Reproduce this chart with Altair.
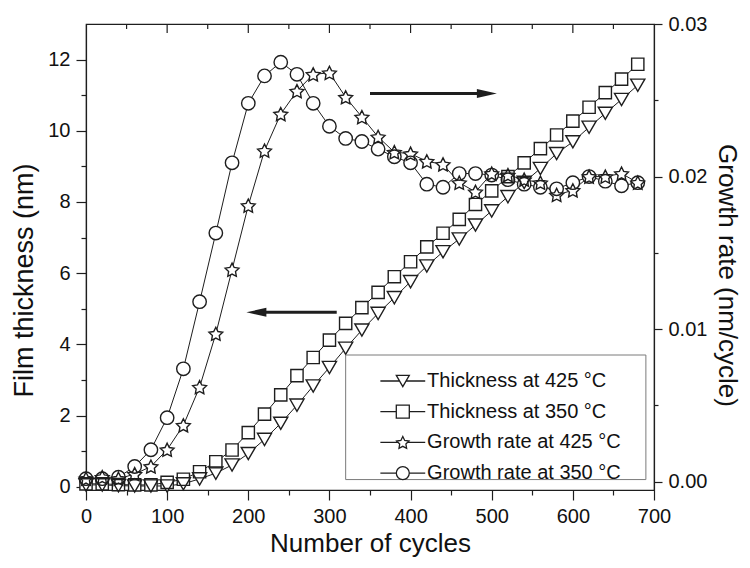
import math
import altair as alt
import pandas as pd

# ---------------- data ----------------
cycles = [0, 20, 40, 60, 80, 100, 120, 140, 160, 180, 200, 220, 240, 260, 280,
          300, 320, 340, 360, 380, 400, 420, 440, 460, 480, 500, 520, 540, 560,
          580, 600, 620, 640, 660, 680]

thick425 = [0.05, 0.05, 0.03, 0.02, 0.02, 0.02, 0.08, 0.22, 0.38, 0.61, 0.93, 1.33,
            1.78, 2.29, 2.83, 3.35, 3.89, 4.40, 4.87, 5.31, 5.76, 6.20, 6.60, 6.96,
            7.35, 7.75, 8.15, 8.55, 8.94, 9.36, 9.69, 10.10, 10.49, 10.88, 11.28]

thick350 = [0.08, 0.08, 0.06, 0.05, 0.05, 0.12, 0.21, 0.42, 0.70, 1.03, 1.52, 2.04,
            2.58, 3.12, 3.63, 4.12, 4.59, 5.03, 5.46, 5.90, 6.32, 6.74, 7.12, 7.51,
            7.93, 8.31, 8.71, 9.10, 9.50, 9.88, 10.27, 10.66, 11.07, 11.45, 11.87]

rate425 = [0.0002, 0.0003, 0.0002, 0.0005, 0.0010, 0.0021, 0.0037, 0.0062, 0.0097,
           0.0139, 0.0181, 0.0217, 0.0241, 0.0256, 0.0267, 0.0268, 0.0252, 0.0239,
           0.0226, 0.0216, 0.0215, 0.0210, 0.0208, 0.0196, 0.0190, 0.0202, 0.0201,
           0.0198, 0.0196, 0.0188, 0.0191, 0.0200, 0.0200, 0.0202, 0.0196]

rate350 = [0.0002, 0.0002, 0.0003, 0.0010, 0.0021, 0.0042, 0.0074, 0.0118, 0.0163,
           0.0209, 0.0248, 0.0266, 0.0275, 0.0267, 0.0248, 0.0233, 0.0225, 0.0223,
           0.0218, 0.0213, 0.0209, 0.0195, 0.0193, 0.0202, 0.0202, 0.0201, 0.0198,
           0.0195, 0.0193, 0.0192, 0.0196, 0.0200, 0.0197, 0.0194, 0.0196]

series_names = ["Thickness at 425 \u00b0C", "Thickness at 350 \u00b0C",
                "Growth rate at 425 \u00b0C", "Growth rate at 350 \u00b0C"]

x_tick_values = [0, 50, 100, 150, 200, 250, 300, 350, 400, 450, 500, 550, 600, 650, 700]
top_major_ticks = [100, 200, 300, 400, 500, 600]
top_minor_ticks = [50, 150, 250, 350, 450, 550, 650]
left_tick_values = [0, 1, 2, 3, 4, 5, 6, 7, 8, 9, 10, 11, 12]
right_tick_values = [0.0, 0.005, 0.01, 0.015, 0.02, 0.025, 0.03]

# arrows (annotation): tail, head-centre, level (film thickness units)
arrow_tail = [309, 350]
arrow_head = [210, 494]
arrow_level = [4.9, 11.05]
arrow_dir = ["left", "right"]

# legend frame corners (cycles, film thickness units)
legend_box_x = [320]
legend_box_x2 = [690]
legend_box_y = [3.7]
legend_box_y2 = [0.2]

# ---------------- styling ----------------
INK = "#1e1e1e"
FONT = "Liberation Sans"
X_SCALE = alt.Scale(domain=[0, 700], nice=False, zero=False)
thick_scale = alt.Scale(domain=[-0.093, 13.0], nice=False, zero=False)
rate_scale = alt.Scale(domain=[-0.00054, 0.03], nice=False, zero=False)


def star_path(outer=1.0, inner=0.5):
    pts = []
    for k in range(10):
        a = math.radians(-90 + 36 * k)
        r = outer if k % 2 == 0 else inner
        pts.append((r * math.cos(a), r * math.sin(a) + 0.1))
    return "M" + "L".join(f"{px:.3f},{py:.3f}" for px, py in pts) + "Z"


TRI = "M-1,-0.866L1,-0.866L0,0.866Z"
SQ = "M-1,-1L1,-1L1,1L-1,1Z"
CIRC = "M-1,0A1,1,0,1,1,1,0A1,1,0,1,1,-1,0Z"
STAR = star_path()
LEFT_HEAD = "M-1,0L1,-0.45L1,0.45Z"
RIGHT_HEAD = "M1,0L-1,-0.45L-1,0.45Z"


def stub(e):
    return f"M-3.45,0L-{e},0M{e},0L3.45,0"


legend_paths = [stub(0.5) + TRI, stub(1) + SQ, stub(0.75) + STAR, stub(1) + CIRC]

df = pd.DataFrame({"cycles": cycles, "thick425": thick425, "thick350": thick350,
                   "rate425": rate425, "rate350": rate350})
arrows = pd.DataFrame({"tail": arrow_tail, "head": arrow_head,
                       "level": arrow_level, "dir": arrow_dir})
legend_df = pd.DataFrame({"series": series_names})
box_df = pd.DataFrame({"x": legend_box_x, "x2": legend_box_x2,
                       "y": legend_box_y, "y2": legend_box_y2})
top_major_df = pd.DataFrame({"t": top_major_ticks})
top_minor_df = pd.DataFrame({"t": top_minor_ticks})

x_enc = alt.X(
    "cycles:Q",
    scale=X_SCALE,
    axis=alt.Axis(
        values=x_tick_values,
        title="Number of cycles",
        titleFontSize=26,
        labelExpr="datum.value % 100 === 0 ? datum.label : ''",
        tickSize={"condition": {"test": "datum.value % 100 === 0", "value": 10}, "value": 5},
        labelPadding=6,
        titlePadding=4,
    ),
)

left_axis = alt.Axis(
    orient="left",
    values=left_tick_values,
    title="Film thickness (nm)",
    titleFontSize=27,
    titleY=256,
    labelExpr="datum.value % 2 === 0 ? datum.label : ''",
    tickSize={"condition": {"test": "datum.value % 2 === 0", "value": 10}, "value": 5},
    labelPadding=6,
    titlePadding=9,
)
right_axis = alt.Axis(
    orient="right",
    values=right_tick_values,
    format=".2f",
    title="Growth rate (nm/cycle)",
    titleFontSize=26,
    titleY=251,
    labelExpr="round(datum.value * 1000) % 10 === 0 ? datum.label : ''",
    tickSize={"condition": {"test": "round(datum.value * 1000) % 10 === 0", "value": 8},
              "value": 4},
    labelPadding=6,
    titlePadding=7,
)

specs = [
    ("thick425", thick_scale, TRI, 200),
    ("thick350", thick_scale, SQ, 150),
    ("rate425", rate_scale, STAR, 210),
    ("rate350", rate_scale, CIRC, 180),
]

base = alt.Chart(df)
layers = []
# connecting lines
for col, sc, shp, sz in specs:
    if col == "thick425":
        yax = left_axis
    elif col == "rate425":
        yax = right_axis
    else:
        yax = None
    layers.append(base.mark_line(color=INK, strokeWidth=1).encode(
        x=x_enc, y=alt.Y(f"{col}:Q", scale=sc, axis=yax)))
# white masks (gap between line and symbol)
for col, sc, shp, sz in specs:
    layers.append(base.mark_point(shape=shp, size=sz, filled=True, color="white",
                                  opacity=1).encode(
        x=x_enc, y=alt.Y(f"{col}:Q", scale=sc, axis=None)))
# open symbols
for col, sc, shp, sz in specs:
    layers.append(base.mark_point(shape=shp, size=sz, filled=False, color=INK,
                                  strokeWidth=1.4, opacity=1).encode(
        x=x_enc, y=alt.Y(f"{col}:Q", scale=sc, axis=None)))

# arrows
arr = alt.Chart(arrows)
layers.append(arr.mark_rule(color=INK, strokeWidth=3).encode(
    x=alt.X("tail:Q", scale=X_SCALE),
    x2="head:Q",
    y=alt.Y("level:Q", scale=thick_scale, axis=None)))
layers.append(arr.transform_filter("datum.dir === 'left'").mark_point(
    shape=LEFT_HEAD, size=400, filled=True, color=INK, opacity=1).encode(
    x="head:Q", y=alt.Y("level:Q", scale=thick_scale, axis=None)))
layers.append(arr.transform_filter("datum.dir === 'right'").mark_point(
    shape=RIGHT_HEAD, size=400, filled=True, color=INK, opacity=1).encode(
    x="head:Q", y=alt.Y("level:Q", scale=thick_scale, axis=None)))

# inward ticks on the top frame
layers.append(alt.Chart(top_major_df).mark_rule(color=INK, strokeWidth=1.2).encode(
    x="t:Q", y=alt.value(0), y2=alt.value(9)))
layers.append(alt.Chart(top_minor_df).mark_rule(color=INK, strokeWidth=1.2).encode(
    x="t:Q", y=alt.value(0), y2=alt.value(5)))

# legend frame
layers.append(alt.Chart(box_df).mark_rect(fill="white", stroke="#7a7a7a",
                                          strokeWidth=1).encode(
    x=alt.X("x:Q", scale=X_SCALE), x2="x2:Q",
    y=alt.Y("y:Q", scale=thick_scale, axis=None), y2="y2:Q"))

# legend (driven by the series names only)
layers.append(alt.Chart(legend_df).transform_filter("false").mark_point(
    filled=False, color=INK, strokeWidth=1.3, opacity=1, size=169).encode(
    shape=alt.Shape("series:N",
                    scale=alt.Scale(domain=series_names, range=legend_paths),
                    legend=alt.Legend(
                        orient="none", legendX=258, legendY=341, title=None,
                        symbolSize=169, symbolOffset=42.8, labelOffset=14.3,
                        padding=6, rowPadding=10.7,
                        symbolStrokeWidth=1.3,
                        symbolStrokeColor=INK, symbolFillColor="transparent",
                        labelFont=FONT, labelFontSize=20, labelColor="#111",
                        labelLimit=400))))

chart = alt.layer(*layers).resolve_scale(y="independent").properties(
    width=568, height=466,
    padding={"left": 78, "top": 16, "right": 88, "bottom": 70},
    autosize=alt.AutoSizeParams(type="none"),
    background="white",
).configure_view(stroke=INK, strokeWidth=1.2).configure_axis(
    grid=False, domainColor=INK, domainWidth=1.2, tickColor=INK, tickWidth=1.2,
    labelFont=FONT, labelFontSize=20, labelColor="#111",
    titleFont=FONT, titleFontWeight="normal", titleColor="#111",
    labelFlush=False, labelOverlap=False,
)

chart.save("out.html", embed_options={"renderer": "svg", "actions": False})
